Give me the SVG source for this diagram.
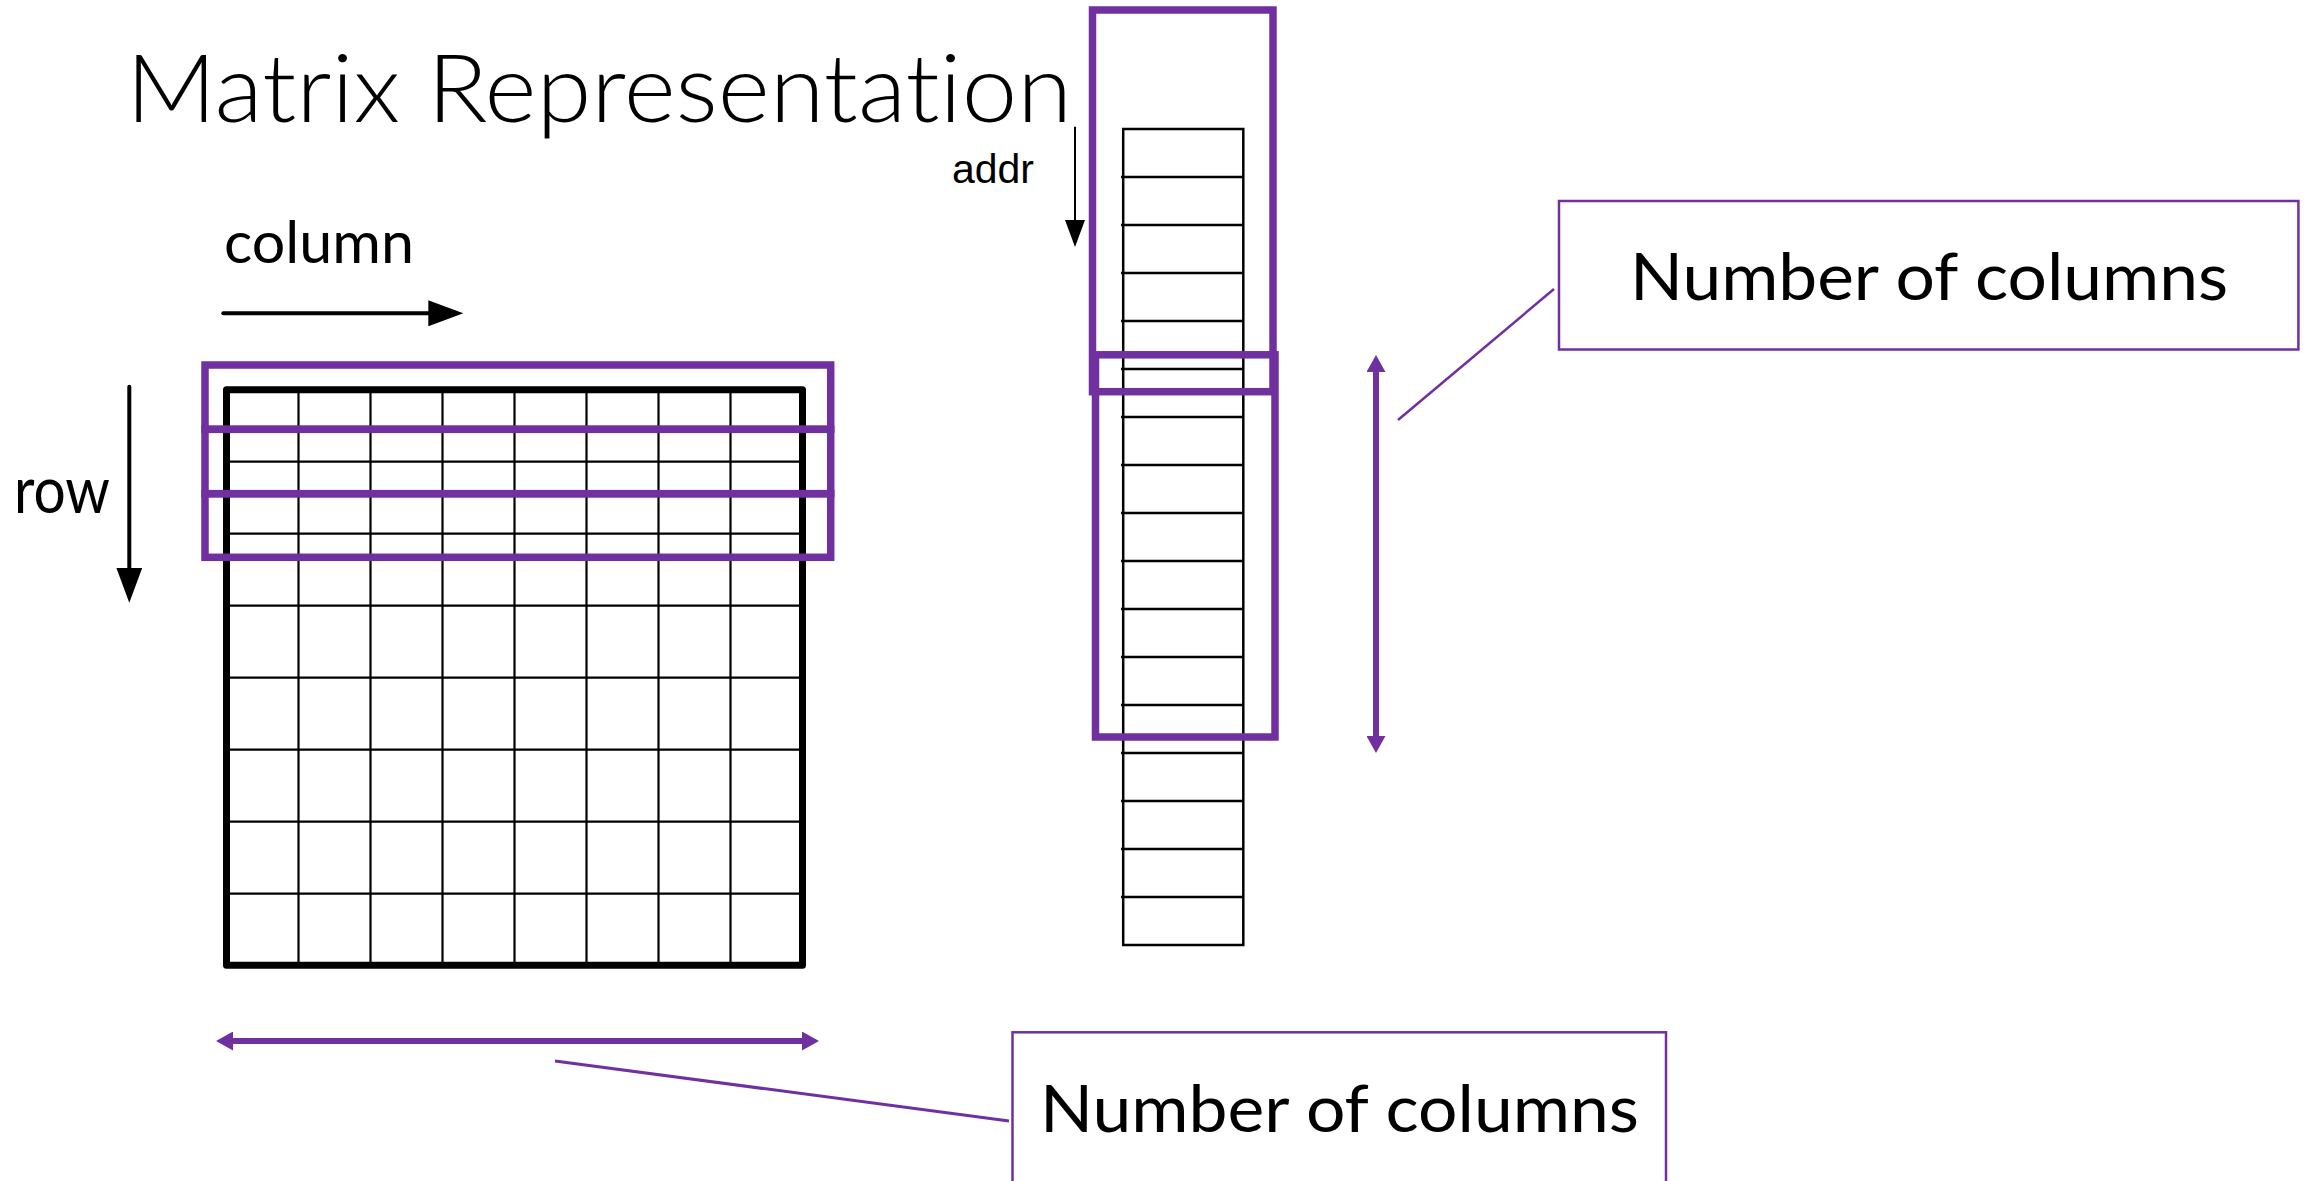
<svg xmlns="http://www.w3.org/2000/svg" width="2310" height="1181" viewBox="0 0 2310 1181">
<style>
.lbl{font-family:Lato,"Open Sans","Liberation Sans",sans-serif;fill:#000;font-variant-ligatures:none}
.title{font-weight:300}
.addr{font-family:"Liberation Sans",Arial,sans-serif;fill:#000}
.grid{stroke:#000;stroke-width:2.2;fill:none}
.frame{stroke:#000;stroke-width:7;fill:none;stroke-linejoin:round}
.hl{stroke:#7030A0;stroke-width:7.5;fill:none}
.box{stroke:#7030A0;stroke-width:2.5;fill:#fff}
.mem{stroke:#000;stroke-width:2.5;fill:none}
.blk{stroke:#000;fill:none}
.pur{stroke:#7030A0;fill:none}
</style>
<defs>
<marker id="bigHead" markerUnits="userSpaceOnUse" markerWidth="36" markerHeight="26" refX="0" refY="13" orient="auto"><path d="M0,0 L35,13 L0,26 z" fill="#000"/></marker>
<marker id="smallHead" markerUnits="userSpaceOnUse" markerWidth="28" markerHeight="20" refX="0" refY="10" orient="auto"><path d="M0,0 L27,10 L0,20 z" fill="#000"/></marker>
<marker id="purpleHead" markerUnits="userSpaceOnUse" markerWidth="18" markerHeight="19" refX="0" refY="9.5" orient="auto-start-reverse"><path d="M0,0 L17,9.5 L0,19 z" fill="#7030A0"/></marker>
</defs>
<rect width="2310" height="1181" fill="#fff"/>

<g id="title"><text class="lbl title" x="126" y="122" font-size="95" textLength="946" lengthAdjust="spacingAndGlyphs">Matrix Representation</text></g>
<g id="label-column"><text class="lbl" x="224" y="263" font-size="59" textLength="190" lengthAdjust="spacingAndGlyphs">column</text></g>
<g id="label-row"><text class="lbl" x="14" y="513" font-size="66" textLength="96" lengthAdjust="spacingAndGlyphs">row</text></g>
<g id="label-addr"><text class="addr" x="952" y="183" font-size="40" textLength="82" lengthAdjust="spacingAndGlyphs">addr</text></g>

<g id="matrix">
<path class="grid" d="M298.5,389.7V965.3M370.5,389.7V965.3M442.5,389.7V965.3M514.5,389.7V965.3M586.5,389.7V965.3M658.5,389.7V965.3M730.5,389.7V965.3"/>
<path class="grid" d="M226.5,461.7H802.5M226.5,533.7H802.5M226.5,605.7H802.5M226.5,677.7H802.5M226.5,749.7H802.5M226.5,821.7H802.5M226.5,893.7H802.5"/>
<rect class="frame" x="226.5" y="389.7" width="576" height="575.6"/>
</g>
<g id="matrix-highlight">
<rect class="hl" x="205" y="365" width="625.7" height="64.3"/>
<rect class="hl" x="205" y="429.3" width="625.7" height="64.4"/>
<rect class="hl" x="205" y="493.7" width="625.7" height="63.6"/>
</g>

<g id="memory">
<rect class="mem" x="1123.2" y="129" width="120.1" height="816"/>
<path class="mem" d="M1121,177H1243.3M1121,225H1243.3M1121,273H1243.3M1121,321H1243.3M1121,369H1243.3M1121,417H1243.3M1121,465H1243.3M1121,513H1243.3M1121,561H1243.3M1121,609H1243.3M1121,657H1243.3M1121,705H1243.3M1121,753H1243.3M1121,801H1243.3M1121,849H1243.3M1121,897H1243.3"/>
</g>
<g id="memory-highlight">
<rect class="hl" x="1092.5" y="10" width="180.5" height="381.7"/>
<rect class="hl" x="1095.5" y="354.8" width="179.5" height="382.2"/>
</g>

<g id="box-top"><rect class="box" x="1559" y="201" width="739.4" height="148.5"/>
<text class="lbl" x="1630" y="300" font-size="66" textLength="598" lengthAdjust="spacingAndGlyphs">Number of columns</text></g>
<g id="box-bottom"><rect class="box" x="1012.5" y="1032.3" width="653.5" height="160"/>
<text class="lbl" x="1040" y="1132" font-size="66" textLength="599" lengthAdjust="spacingAndGlyphs">Number of columns</text></g>

<g id="connectors">
<line class="blk" x1="223.3" y1="313.3" x2="428.3" y2="313.3" stroke-width="4" stroke-linecap="round" marker-end="url(#bigHead)"/>
<line class="blk" x1="129.3" y1="386.7" x2="129.3" y2="567.7" stroke-width="4" stroke-linecap="round" marker-end="url(#bigHead)"/>
<line class="blk" x1="1075" y1="126.7" x2="1075" y2="220" stroke-width="2" marker-end="url(#smallHead)"/>
<line class="pur" x1="1376" y1="372" x2="1376" y2="736" stroke-width="6" marker-start="url(#purpleHead)" marker-end="url(#purpleHead)"/>
<line class="pur" x1="233" y1="1041" x2="802" y2="1041" stroke-width="6" marker-start="url(#purpleHead)" marker-end="url(#purpleHead)"/>
<line class="pur" x1="1398" y1="420" x2="1554" y2="289" stroke-width="2.5"/>
<line class="pur" x1="555" y1="1061" x2="1009" y2="1121" stroke-width="3"/>
</g>
</svg>
